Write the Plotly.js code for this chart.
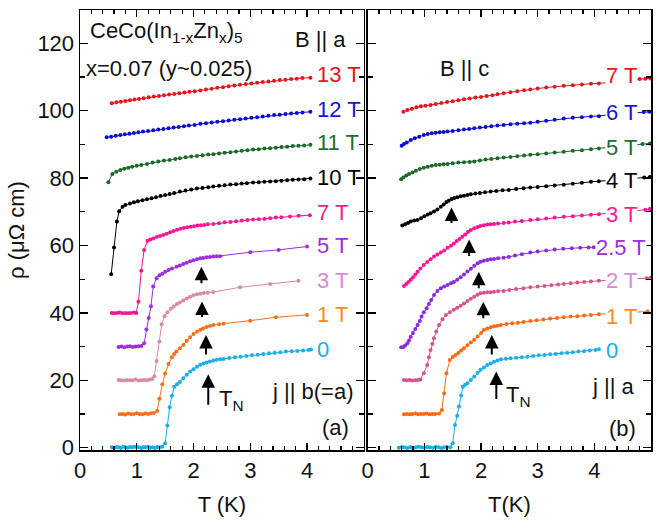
<!DOCTYPE html>
<html><head><meta charset="utf-8">
<script src="https://cdn.plot.ly/plotly-3.0.1.min.js"></script>
<style>html,body{margin:0;padding:0;background:#fff}</style>
</head><body><div id="chart" style="width:656px;height:520px"></div>
<script>
// ---------- data: panel (a) B || a, j || b(=a) ----------
const a0 = [[0.56,0.1],[0.60,0.0],[0.64,0.2],[0.68,0.1],[0.72,-0.1],[0.76,0.3],[0.80,0.1],[0.84,0.0],[0.88,0.2],[0.92,0.1],[0.96,0.3],[1.00,0.2],[1.04,0.1],[1.08,-0.1],[1.12,0.2],[1.16,0.1],[1.20,0.3],[1.24,0.0],[1.28,0.1],[1.32,-0.1],[1.36,0.2],[1.40,0.1],[1.45,0.3],[1.50,1.3],[1.54,6.6],[1.58,12.0],[1.62,15.4],[1.66,18.1],[1.71,18.8],[1.76,19.5],[1.82,20.6],[1.88,21.6],[1.94,22.6],[2.00,23.3],[2.06,24.0],[2.12,24.6],[2.18,25.0],[2.23,25.3],[2.29,25.6],[2.35,25.9],[2.41,26.1],[2.47,26.2],[2.53,26.3],[2.63,26.6],[2.73,26.8],[2.83,27.0],[2.93,27.2],[3.03,27.4],[3.13,27.6],[3.23,27.8],[3.33,28.0],[3.43,28.2],[3.53,28.3],[3.63,28.5],[3.73,28.6],[3.83,28.7],[3.93,28.8],[4.03,29.0],[4.07,29.1]];
const a1 = [[0.70,9.9],[0.75,10.0],[0.80,9.8],[0.85,10.1],[0.90,9.9],[0.95,10.0],[1.00,10.2],[1.05,10.0],[1.10,9.9],[1.15,10.1],[1.20,10.0],[1.25,10.2],[1.30,10.3],[1.36,10.9],[1.40,14.5],[1.45,18.8],[1.50,22.0],[1.56,24.8],[1.62,26.8],[1.66,27.8],[1.70,28.5],[1.76,29.5],[1.82,30.5],[1.88,31.7],[1.94,32.8],[2.00,33.7],[2.06,34.4],[2.12,35.0],[2.17,35.4],[2.23,35.8],[2.29,36.1],[2.35,36.4],[2.45,36.6],[2.53,36.8],[3.00,37.7],[3.45,38.7],[4.00,39.4]];
const a3 = [[0.68,20.1],[0.73,20.0],[0.78,19.9],[0.83,20.1],[0.88,20.0],[0.93,20.0],[0.98,20.2],[1.03,19.9],[1.08,20.0],[1.13,20.1],[1.18,20.0],[1.23,20.2],[1.27,20.4],[1.31,21.2],[1.35,25.7],[1.40,31.5],[1.44,36.6],[1.49,39.0],[1.54,40.2],[1.60,41.2],[1.65,41.9],[1.71,42.6],[1.76,43.1],[1.82,43.7],[1.88,44.3],[1.94,44.8],[2.00,45.2],[2.06,45.5],[2.12,45.7],[2.18,45.9],[2.25,46.0],[2.35,46.2],[2.82,47.6],[3.35,48.6],[3.85,49.5]];
const a5 = [[0.68,29.9],[0.73,30.0],[0.78,29.8],[0.83,30.0],[0.88,30.1],[0.93,29.9],[0.98,30.0],[1.03,30.1],[1.08,30.2],[1.13,31.0],[1.17,35.1],[1.21,38.5],[1.25,42.0],[1.29,47.8],[1.35,50.3],[1.40,51.2],[1.45,51.6],[1.50,52.2],[1.56,52.7],[1.62,53.2],[1.70,53.7],[1.76,54.1],[1.82,54.5],[1.88,54.9],[1.94,55.3],[2.00,55.6],[2.06,55.9],[2.12,56.2],[2.17,56.3],[2.23,56.5],[2.29,56.6],[2.35,56.7],[2.41,56.8],[2.47,56.8],[3.00,58.0],[3.50,58.7],[4.00,59.7]];
const a7 = [[0.56,40.0],[0.60,39.9],[0.65,40.0],[0.70,40.1],[0.75,39.9],[0.80,40.0],[0.85,39.9],[0.90,40.0],[0.95,40.1],[0.99,40.0],[1.03,43.3],[1.08,52.5],[1.13,58.7],[1.19,61.4],[1.24,61.8],[1.29,62.1],[1.35,62.5],[1.41,62.8],[1.47,63.1],[1.53,63.5],[1.59,63.9],[1.65,64.3],[1.71,64.7],[1.77,65.0],[1.83,65.2],[1.89,65.4],[1.95,65.6],[2.01,65.7],[2.07,65.9],[2.13,66.0],[2.19,66.1],[2.25,66.3],[2.35,66.4],[2.45,66.6],[2.55,66.9],[2.65,67.0],[2.75,67.2],[2.85,67.4],[2.95,67.6],[3.05,67.7],[3.15,67.8],[3.25,67.9],[3.35,68.1],[3.45,68.3],[3.55,68.4],[3.70,68.6],[3.85,68.8],[4.05,69.0]];
const a10 = [[0.55,51.5],[0.60,59.4],[0.65,67.1],[0.69,70.2],[0.75,71.5],[0.80,72.0],[0.88,72.5],[0.95,72.8],[1.02,73.1],[1.10,73.4],[1.18,73.7],[1.26,74.0],[1.34,74.3],[1.42,74.7],[1.50,75.0],[1.58,75.3],[1.66,75.6],[1.76,76.0],[1.86,76.3],[1.96,76.6],[2.06,76.9],[2.16,77.1],[2.26,77.3],[2.35,77.5],[2.45,77.7],[2.55,77.9],[2.65,78.1],[2.75,78.2],[2.85,78.4],[2.94,78.5],[3.05,78.7],[3.15,78.8],[3.25,78.9],[3.35,79.0],[3.45,79.1],[3.55,79.2],[3.65,79.4],[3.75,79.5],[3.85,79.6],[3.95,79.7],[4.06,79.9]];
const a11 = [[0.50,78.8],[0.57,81.2],[0.64,81.9],[0.71,82.4],[0.78,82.8],[0.85,83.1],[0.92,83.4],[1.00,83.7],[1.08,83.9],[1.18,84.2],[1.28,84.6],[1.38,84.9],[1.48,85.2],[1.58,85.4],[1.68,85.7],[1.76,85.9],[1.86,86.2],[1.96,86.4],[2.06,86.6],[2.16,86.8],[2.26,87.0],[2.35,87.1],[2.45,87.3],[2.55,87.5],[2.65,87.7],[2.75,87.9],[2.85,88.1],[2.95,88.3],[3.05,88.5],[3.15,88.6],[3.25,88.8],[3.35,88.9],[3.45,89.0],[3.55,89.2],[3.65,89.3],[3.75,89.5],[3.85,89.6],[3.95,89.7],[4.06,89.9]];
const a12 = [[0.47,92.1],[0.55,92.3],[0.63,92.6],[0.71,92.8],[0.79,93.0],[0.87,93.2],[0.95,93.4],[1.03,93.6],[1.11,93.8],[1.20,94.0],[1.29,94.2],[1.38,94.4],[1.47,94.6],[1.56,94.8],[1.65,95.0],[1.74,95.2],[1.83,95.4],[1.92,95.6],[2.02,95.8],[2.12,96.1],[2.22,96.3],[2.32,96.5],[2.42,96.7],[2.52,96.9],[2.62,97.1],[2.72,97.3],[2.82,97.5],[2.92,97.7],[3.02,97.9],[3.12,98.1],[3.22,98.3],[3.32,98.5],[3.42,98.7],[3.52,98.8],[3.62,99.0],[3.72,99.2],[3.82,99.3],[3.92,99.5],[4.06,99.7]];
const a13 = [[0.56,102.2],[0.64,102.5],[0.72,102.7],[0.80,102.9],[0.88,103.1],[0.96,103.3],[1.04,103.5],[1.12,103.7],[1.21,104.0],[1.30,104.2],[1.39,104.4],[1.48,104.6],[1.57,104.8],[1.66,105.0],[1.75,105.2],[1.84,105.4],[1.93,105.6],[2.02,105.8],[2.12,106.0],[2.22,106.3],[2.32,106.5],[2.42,106.8],[2.52,107.0],[2.62,107.3],[2.72,107.5],[2.82,107.7],[2.92,107.9],[3.02,108.1],[3.12,108.3],[3.22,108.5],[3.32,108.7],[3.42,108.9],[3.52,109.1],[3.62,109.2],[3.72,109.4],[3.82,109.5],[3.92,109.7],[4.06,109.8]];

// ---------- data: panel (b) B || c, j || a ----------
const c0 = [[0.55,0.0],[0.60,0.2],[0.65,0.1],[0.70,-0.1],[0.75,0.2],[0.80,0.0],[0.85,0.1],[0.90,0.3],[0.95,0.1],[1.00,0.0],[1.05,0.2],[1.10,0.1],[1.15,0.0],[1.20,0.2],[1.25,0.1],[1.30,-0.1],[1.35,0.1],[1.40,0.2],[1.46,0.1],[1.50,1.3],[1.54,6.7],[1.58,9.5],[1.61,12.2],[1.65,15.5],[1.68,18.1],[1.72,18.7],[1.76,19.1],[1.82,20.1],[1.88,21.1],[1.94,22.2],[1.99,23.1],[2.05,23.8],[2.11,24.5],[2.17,25.0],[2.23,25.5],[2.29,25.9],[2.35,26.2],[2.44,26.4],[2.52,26.5],[2.62,26.7],[2.72,26.8],[2.82,27.0],[2.92,27.2],[3.02,27.4],[3.12,27.5],[3.22,27.7],[3.32,27.8],[3.42,28.0],[3.52,28.2],[3.62,28.3],[3.72,28.5],[3.82,28.6],[3.92,28.8],[4.02,29.0],[4.08,29.2]];
const c1 = [[0.64,9.9],[0.69,10.0],[0.74,9.9],[0.79,10.0],[0.84,10.1],[0.89,9.9],[0.94,10.0],[0.99,10.0],[1.04,10.1],[1.09,9.9],[1.14,10.0],[1.19,10.0],[1.26,10.1],[1.31,11.2],[1.35,16.1],[1.39,22.1],[1.45,26.0],[1.50,26.9],[1.55,27.5],[1.60,28.1],[1.65,28.8],[1.70,29.5],[1.76,30.4],[1.82,31.2],[1.88,32.0],[1.94,33.0],[2.00,34.0],[2.05,34.9],[2.11,35.4],[2.17,35.7],[2.23,36.0],[2.29,36.2],[2.35,36.4],[2.45,36.7],[2.55,36.9],[2.65,37.1],[2.75,37.3],[2.87,37.6],[2.98,37.8],[3.10,38.0],[3.22,38.3],[3.34,38.5],[3.46,38.7],[3.58,38.9],[3.70,39.0],[3.82,39.2],[3.94,39.4],[4.08,39.6],[4.94,40.4]];
const c2 = [[0.64,20.1],[0.69,20.0],[0.74,20.1],[0.79,19.9],[0.84,20.0],[0.89,20.1],[0.93,20.2],[0.99,22.1],[1.05,24.5],[1.08,26.8],[1.11,29.0],[1.14,30.8],[1.17,32.5],[1.21,34.5],[1.26,36.4],[1.32,38.1],[1.38,39.4],[1.45,40.2],[1.52,40.9],[1.58,41.5],[1.64,42.1],[1.70,42.8],[1.76,43.5],[1.82,44.2],[1.88,44.8],[1.94,45.4],[1.99,45.8],[2.05,46.0],[2.11,46.1],[2.17,46.1],[2.23,46.3],[2.30,46.4],[2.40,46.5],[2.50,46.8],[2.62,47.1],[2.75,47.3],[2.87,47.6],[3.00,47.8],[3.12,48.0],[3.24,48.2],[3.36,48.4],[3.46,48.6],[3.58,48.8],[3.70,49.0],[3.82,49.2],[3.94,49.3],[4.08,49.5],[4.92,50.3],[4.99,50.4]];
const c25 = [[0.59,29.8],[0.63,29.9],[0.66,30.3],[0.70,31.0],[0.73,31.8],[0.76,32.9],[0.80,34.0],[0.84,35.2],[0.88,36.4],[0.92,37.6],[0.95,38.9],[0.99,40.2],[1.04,41.4],[1.08,42.6],[1.12,43.8],[1.17,45.3],[1.23,46.5],[1.29,47.3],[1.35,47.8],[1.41,48.3],[1.47,48.8],[1.52,49.2],[1.58,49.8],[1.64,50.6],[1.70,51.4],[1.76,52.3],[1.82,53.1],[1.88,54.0],[1.94,54.7],[1.99,55.2],[2.05,55.5],[2.11,55.7],[2.17,55.9],[2.23,56.0],[2.30,56.2],[2.40,56.4],[2.49,56.6],[2.60,57.0],[2.72,57.4],[2.87,57.9],[3.00,58.2],[3.15,58.5],[3.30,58.8],[3.45,59.0],[3.60,59.2],[3.75,59.3],[3.90,59.4],[3.99,59.5]];
const c3 = [[0.64,48.0],[0.68,48.6],[0.72,49.2],[0.76,49.8],[0.80,50.6],[0.84,51.4],[0.88,52.2],[0.93,53.2],[0.99,54.2],[1.05,55.1],[1.11,55.9],[1.17,56.7],[1.23,57.3],[1.29,57.9],[1.35,58.5],[1.41,59.3],[1.47,59.9],[1.52,60.6],[1.57,61.3],[1.62,61.9],[1.67,62.6],[1.72,63.3],[1.77,64.0],[1.82,64.6],[1.88,65.1],[1.94,65.5],[1.99,65.8],[2.05,66.0],[2.11,66.2],[2.17,66.3],[2.23,66.4],[2.30,66.5],[2.40,66.7],[2.49,66.8],[2.60,67.1],[2.72,67.3],[2.87,67.6],[3.00,67.8],[3.15,68.0],[3.30,68.3],[3.46,68.5],[3.62,68.7],[3.78,68.9],[3.94,69.1],[4.08,69.3],[4.90,70.6],[4.98,70.8]];
const c4 = [[0.61,65.9],[0.66,66.3],[0.71,66.7],[0.76,67.1],[0.82,67.4],[0.88,67.6],[0.94,68.1],[1.00,68.7],[1.06,69.2],[1.11,69.6],[1.17,70.1],[1.23,70.7],[1.29,71.5],[1.34,72.2],[1.39,72.9],[1.43,73.3],[1.48,73.8],[1.53,74.1],[1.58,74.3],[1.64,74.6],[1.70,74.8],[1.76,75.0],[1.82,75.2],[1.90,75.4],[1.98,75.6],[2.07,75.8],[2.17,76.0],[2.27,76.2],[2.38,76.4],[2.49,76.5],[2.62,76.8],[2.75,77.0],[2.87,77.2],[3.00,77.4],[3.15,77.6],[3.30,77.8],[3.46,78.0],[3.62,78.3],[3.78,78.6],[3.94,78.9],[4.08,79.1],[4.88,80.2],[4.98,80.3]];
const c5 = [[0.59,79.7],[0.63,80.2],[0.68,80.8],[0.73,81.2],[0.79,81.7],[0.85,82.2],[0.92,82.7],[0.99,83.1],[1.06,83.4],[1.13,83.7],[1.20,83.9],[1.27,84.0],[1.34,84.1],[1.41,84.2],[1.50,84.4],[1.60,84.6],[1.70,84.7],[1.80,84.8],[1.88,84.9],[1.98,85.2],[2.08,85.5],[2.18,85.7],[2.29,85.9],[2.40,86.1],[2.52,86.3],[2.64,86.5],[2.76,86.7],[2.87,86.9],[3.00,87.1],[3.15,87.3],[3.30,87.6],[3.46,87.8],[3.62,88.1],[3.78,88.3],[3.94,88.6],[4.08,88.8],[4.85,90.1],[4.98,90.3]];
const c6 = [[0.60,89.6],[0.64,90.1],[0.69,90.6],[0.76,91.3],[0.83,91.8],[0.91,92.3],[0.99,92.8],[1.06,93.1],[1.13,93.3],[1.20,93.5],[1.27,93.6],[1.34,93.7],[1.41,93.8],[1.50,94.0],[1.60,94.2],[1.70,94.4],[1.79,94.6],[1.88,94.8],[1.98,95.0],[2.08,95.2],[2.18,95.4],[2.29,95.6],[2.40,95.8],[2.52,96.0],[2.64,96.1],[2.76,96.3],[2.87,96.4],[3.00,96.7],[3.15,97.0],[3.30,97.3],[3.46,97.7],[3.62,97.9],[3.78,98.1],[3.94,98.3],[4.08,98.4],[4.87,99.6],[4.97,99.7]];
const c7 = [[0.63,99.7],[0.70,100.2],[0.78,100.6],[0.86,101.0],[0.94,101.3],[1.02,101.5],[1.11,101.7],[1.20,102.0],[1.30,102.3],[1.40,102.6],[1.50,102.8],[1.60,103.1],[1.70,103.4],[1.80,103.6],[1.90,103.9],[2.00,104.1],[2.10,104.4],[2.20,104.6],[2.29,104.9],[2.40,105.2],[2.52,105.5],[2.64,105.8],[2.76,106.1],[2.87,106.3],[3.00,106.6],[3.15,106.9],[3.30,107.1],[3.46,107.4],[3.62,107.6],[3.78,107.8],[3.94,108.0],[4.08,108.1],[4.80,109.4],[4.90,109.5],[4.99,109.6]];

// field labels
const leftFields  = ['13 T','12 T','11 T','10 T','7 T','5 T','3 T','1 T','0'];
const rightFields = ['7 T','6 T','5 T','4 T','3 T','2.5 T','2 T','1 T','0'];
// T_N arrow positions (tip x in K, tip rho)
const leftTN  = [[2.14,53.7],[2.15,43.4],[2.22,33.4],[2.26,21.8]];
const rightTN = [[1.48,71.3],[1.79,61.8],[1.96,52.2],[2.04,43.3],[2.19,33.4],[2.27,22.6]];

// ---------- styles ----------
const leftSeries  = [a13,a12,a11,a10,a7,a5,a3,a1,a0];
const rightSeries = [c7,c6,c5,c4,c3,c25,c2,c1,c0];
const leftCurveCol  = ['#e8141b','#0c0cd4','#1b6a28','#000000','#ff1493','#9a2ee0','#d98aa6','#f5701a','#1aaeea'];
const leftLabelCol  = ['#e8141b','#1616d6','#1f6e2b','#000000','#ff1a8c','#9b2fd8','#dc85d8','#ff8c1a','#1aaaee'];
const rightCurveCol = ['#e8141b','#0c0cd4','#1b6a28','#000000','#ff1493','#8a2be2','#d6558c','#ff6a10','#1aaeea'];
const rightLabelCol = ['#e8141b','#1616d6','#1f6e2b','#000000','#ff1a8c','#9b2fd8','#dd88dd','#ff8c1a','#1aaaee'];
const leftLabelPos  = [110.9,100.5,90.6,80.2,69.8,59.9,49.5,39.4,29.2];
const rightLabelPos = [110.5,99.4,89.1,79.4,69.3,59.3,49.5,38.8,28.7];
const rightLabelX   = [4.19,4.19,4.19,4.19,4.19,4.02,4.19,4.19,4.19];

const traces = [];
leftSeries.forEach((s,i)=>traces.push({x:s.map(p=>p[0]),y:s.map(p=>p[1]),xaxis:'x',yaxis:'y',type:'scatter',mode:'lines+markers',
  line:{color:leftCurveCol[i],width:1},marker:{color:leftCurveCol[i],size:4},hoverinfo:'skip'}));
rightSeries.forEach((s,i)=>traces.push({x:s.map(p=>p[0]),y:s.map(p=>p[1]),xaxis:'x2',yaxis:'y2',type:'scatter',mode:'lines+markers',
  line:{color:rightCurveCol[i],width:1},marker:{color:rightCurveCol[i],size:4},hoverinfo:'skip'}));

const L=80, R=5, T=10, B=70, W=656, H=520;
const pw=W-L-R, ph=H-T-B;
const px=(x)=>(x-L)/pw, py=(y)=>(H-B-y)/ph;

const annotations=[];
leftFields.forEach((t,i)=>annotations.push({xref:'x',yref:'y',x:4.16,y:leftLabelPos[i],text:t,showarrow:false,xanchor:'left',yanchor:'middle',
  font:{size:22,color:leftLabelCol[i]},borderpad:0}));
rightFields.forEach((t,i)=>annotations.push({xref:'x2',yref:'y2',x:rightLabelX[i],y:rightLabelPos[i],text:t,showarrow:false,xanchor:'left',yanchor:'middle',
  font:{size:22,color:rightLabelCol[i]},bgcolor:'#ffffff',borderpad:0}));
const arrowLen=[18,17,21,32], arrowLenR=[17,18,18,18,21,29];
leftTN.forEach((p,i)=>annotations.push({xref:'x',yref:'y',x:p[0],y:p[1],ax:0,ay:arrowLen[i],text:'',showarrow:true,arrowhead:2,arrowsize:1.35,arrowwidth:2,arrowcolor:'#000'}));
rightTN.forEach((p,i)=>annotations.push({xref:'x2',yref:'y2',x:p[0],y:p[1],ax:0,ay:arrowLenR[i],text:'',showarrow:true,arrowhead:2,arrowsize:1.35,arrowwidth:2,arrowcolor:'#000'}));

const txt=(t,x,y,opt)=>annotations.push(Object.assign({xref:'paper',yref:'paper',x:px(x),y:py(y),text:t,showarrow:false,xanchor:'left',yanchor:'middle',font:{size:22,color:'#111'}},opt||{}));
txt('CeCo(In<sub>1-x</sub>Zn<sub>x</sub>)<sub>5</sub>',88,32);
txt('x=0.07 (y~0.025)',84,68);
txt('B || a',293,39);
txt('B || c',438,69);
txt('j || b(=a)',270,391);
txt('(a)',320,427);
txt('j || a',590,386);
txt('(b)',607,428);
txt('T<sub>N</sub>',217,400);
txt('T<sub>N</sub>',504,396);

const axCommon={showline:true,linecolor:'#000',linewidth:1.5,mirror:'ticks',ticks:'inside',tickcolor:'#000',tickwidth:1.3,
  showgrid:false,zeroline:false,tickfont:{size:22,color:'#111'}};
const layout={
  width:W,height:H,margin:{l:L,r:R,t:T,b:B},paper_bgcolor:'#fff',plot_bgcolor:'#fff',showlegend:false,
  font:{family:'Arial, "Liberation Sans", sans-serif',size:22,color:'#111'},
  xaxis:Object.assign({},axCommon,{domain:[0,px(363.75)],range:[0,5],anchor:'y',tickmode:'array',tickvals:[0,1,2,3,4,5],ticktext:['0','1','2','3','4',''],
    ticklen:7,minor:{dtick:0.2,tick0:0,ticklen:4,tickwidth:1.2,ticks:'inside',tickcolor:'#000'},
    title:{text:'T (K)',font:{size:22,color:'#111'},standoff:14}}),
  xaxis2:Object.assign({},axCommon,{domain:[px(367.7),1],range:[0,5],anchor:'y2',dtick:1,tick0:0,
    ticklen:7,minor:{dtick:0.2,tick0:0,ticklen:4,tickwidth:1.2,ticks:'inside',tickcolor:'#000'},
    title:{text:'T(K)',font:{size:22,color:'#111'},standoff:14}}),
  yaxis:Object.assign({},axCommon,{domain:[0,1],range:[-0.7,129.9],anchor:'x',dtick:20,tick0:0,ticklen:8,
    minor:{dtick:10,tick0:0,ticklen:5,tickwidth:1.2,ticks:'inside',tickcolor:'#000'},
    title:{text:'ρ (μΩ cm)',font:{size:22,color:'#111'},standoff:6}}),
  yaxis2:Object.assign({},axCommon,{domain:[0,1],range:[-0.7,129.9],anchor:'x2',dtick:20,tick0:0,ticklen:8,showticklabels:false,
    minor:{dtick:10,tick0:0,ticklen:5,tickwidth:1.2,ticks:'inside',tickcolor:'#000'}}),
  annotations:annotations
};
Plotly.newPlot('chart',traces,layout,{staticPlot:true,displayModeBar:false});
</script></body></html>
